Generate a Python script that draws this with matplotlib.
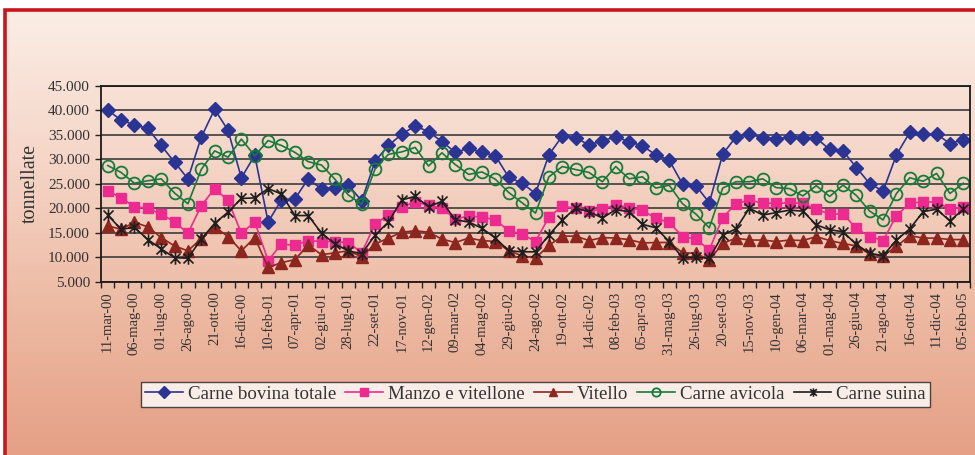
import matplotlib
matplotlib.use("Agg")
import matplotlib.pyplot as plt
import numpy as np
from matplotlib.path import Path
from matplotlib.patches import Rectangle
from matplotlib.ticker import FuncFormatter, FixedLocator
from matplotlib.colors import LinearSegmentedColormap

# ---------------- data (thousand tonnes) ----------------
tick_labels = ["11-mar-00", "06-mag-00", "01-lug-00", "26-ago-00", "21-ott-00", "16-dic-00",
               "10-feb-01", "07-apr-01", "02-giu-01", "28-lug-01", "22-set-01", "17-nov-01",
               "12-gen-02", "09-mar-02", "04-mag-02", "29-giu-02", "24-ago-02", "19-ott-02",
               "14-dic-02", "08-feb-03", "05-apr-03", "31-mag-03", "26-lug-03", "20-set-03",
               "15-nov-03", "10-gen-04", "06-mar-04", "01-mag-04", "26-giu-04", "21-ago-04",
               "16-ott-04", "11-dic-04", "05-feb-05"]

bovina_totale = [40.0, 38.0, 37.0, 36.3, 32.8, 29.4, 26.0, 34.5, 40.2, 35.9, 26.2, 30.8, 17.2,
                 21.7, 21.9, 26.0, 23.9, 24.2, 24.7, 21.5, 29.6, 32.8, 35.1, 36.8, 35.6, 33.6,
                 31.4, 32.2, 31.4, 30.7, 26.3, 25.1, 23.0, 30.9, 34.7, 34.4, 32.9, 33.8, 34.5,
                 33.6, 32.7, 30.9, 29.8, 24.9, 24.6, 21.1, 31.0, 34.6, 35.1, 34.4, 34.2, 34.5,
                 34.4, 34.3, 32.0, 31.7, 28.3, 25.0, 23.5, 30.9, 35.5, 35.1, 35.1, 33.2, 34.0]
manzo_vitellone = [23.6, 22.1, 20.3, 20.0, 18.8, 17.2, 14.9, 20.5, 24.0, 21.6, 14.9, 17.2, 9.3,
                   12.7, 12.4, 13.4, 13.2, 13.2, 13.0, 10.9, 16.8, 18.6, 20.2, 21.3, 20.6, 20.0,
                   17.8, 18.4, 18.2, 17.6, 15.4, 14.7, 13.2, 18.2, 20.4, 20.0, 19.4, 19.8, 20.7,
                   20.1, 19.6, 17.9, 17.1, 14.2, 13.7, 11.5, 18.1, 20.9, 21.7, 21.0, 21.0, 21.1,
                   21.0, 19.8, 18.8, 18.8, 15.9, 14.2, 13.4, 18.5, 21.0, 21.3, 21.3, 19.8, 20.3]
vitello = [16.4, 15.7, 17.1, 16.2, 14.0, 12.3, 11.3, 13.8, 16.2, 14.2, 11.3, 14.0, 7.9,
           8.9, 9.5, 12.5, 10.5, 10.9, 11.3, 10.1, 12.7, 13.9, 15.1, 15.4, 15.1, 13.7,
           13.0, 13.9, 13.4, 13.2, 11.3, 10.3, 9.8, 12.4, 14.3, 14.3, 13.4, 14.0, 13.9,
           13.6, 12.9, 13.0, 13.0, 10.9, 10.8, 9.4, 12.8, 13.9, 13.5, 13.5, 13.2, 13.5,
           13.4, 14.2, 13.4, 12.8, 12.3, 10.6, 10.3, 12.2, 14.4, 13.9, 13.9, 13.6, 13.6]
avicola = [28.7, 27.3, 25.1, 25.6, 26.0, 23.1, 20.9, 27.9, 31.7, 30.4, 34.1, 30.7, 33.8,
           32.8, 31.4, 29.5, 28.8, 25.9, 22.7, 20.8, 28.0, 31.0, 31.5, 32.4, 28.6, 31.3,
           28.9, 26.9, 27.4, 25.9, 23.2, 21.1, 19.0, 26.4, 28.5, 27.9, 27.3, 25.4, 28.5,
           26.0, 26.4, 24.1, 24.7, 20.9, 18.8, 16.0, 24.1, 25.4, 25.4, 26.0, 24.2, 24.0,
           22.5, 24.6, 22.4, 24.7, 22.6, 19.4, 17.6, 23.0, 26.2, 25.5, 27.1, 23.0, 25.1]
suina = [18.6, 15.7, 16.1, 13.6, 11.7, 9.9, 9.8, 13.7, 16.9, 19.2, 22.0, 22.1, 24.0,
         22.9, 18.5, 18.5, 14.9, 12.7, 11.3, 10.7, 14.5, 17.2, 21.7, 22.4, 20.3, 21.4,
         17.6, 17.2, 15.9, 13.9, 11.3, 11.1, 11.1, 14.5, 17.6, 20.0, 19.3, 18.0, 19.7,
         19.3, 16.7, 16.0, 13.2, 9.9, 10.0, 9.8, 14.5, 15.8, 20.0, 18.6, 19.1, 19.6,
         19.4, 16.6, 15.6, 15.2, 12.6, 10.8, 10.3, 13.5, 15.8, 19.3, 19.8, 17.4, 19.8]

series_names = ["Carne bovina totale", "Manzo e vitellone", "Vitello", "Carne avicola", "Carne suina"]
series_values = [bovina_totale, manzo_vitellone, vitello, avicola, suina]

# ---------------- styling ----------------
plt.rcParams['font.family'] = ['Liberation Serif', 'DejaVu Serif']
TXT = '#333333'

W, H = 975, 455
fig = plt.figure(figsize=(W / 100, H / 100), dpi=100)
fig.patch.set_facecolor('white')

# background gradient inside red frame
bg = fig.add_axes([0, 0, 1, 1], zorder=-5)
bg.set_xlim(0, 1)
bg.set_ylim(0, 1)
bg.axis('off')
cmap = LinearSegmentedColormap.from_list('g', ['#E5A086', '#EDBAA3', '#F5D6C8', '#FBEDE5'])
grad = np.linspace(0, 1, 256).reshape(-1, 1)
fx0, fy1 = 5 / W, 1 - 10 / H
bg.imshow(grad, cmap=cmap, aspect='auto', origin='lower',
          extent=[fx0, 1.0, 0.0, fy1], interpolation='bicubic')
bg.add_patch(Rectangle((fx0, -0.05), 1.2, fy1 + 0.05, fill=False,
                       edgecolor='#C8161E', linewidth=2.6, transform=bg.transAxes,
                       clip_on=False))

# plot area
left, right = 101 / W, 970 / W
top, bottom = 1 - 85.7 / H, 1 - 281.7 / H
ax = fig.add_axes([left, bottom, right - left, top - bottom])
ax.set_facecolor('none')

star = Path([(-1, -1), (1, 1), (-1, 1), (1, -1), (0, -1.25), (0, 1.25)],
            [Path.MOVETO, Path.LINETO, Path.MOVETO, Path.LINETO, Path.MOVETO, Path.LINETO])

styles = [
    dict(color='#2B3492', marker='D', markersize=6.8, mfc='#2B3492', mec='#2B3492'),
    dict(color='#EC2A90', marker='s', markersize=7.8, mfc='#EC2A90', mec='#EC2A90'),
    dict(color='#8E2620', marker='^', markersize=8, mfc='#8E2620', mec='#8E2620'),
    dict(color='#167A3A', marker='o', markersize=8.5, mfc='none', mec='#167A3A', mew=1.3),
    dict(color='#1E1E1E', marker=star, markersize=9, mfc='none', mec='#1E1E1E', mew=1.2),
]

x = np.arange(len(bovina_totale))
handles = []
for name, vals, st in zip(series_names, series_values, styles):
    h, = ax.plot(x, np.array(vals) * 1000, linewidth=1.2, label=name, **st)
    handles.append(h)

ax.set_xlim(-0.5, len(x) - 0.5)
ax.set_ylim(5000, 45000)
ax.set_yticks(np.arange(5000, 45001, 5000))
ax.yaxis.set_major_formatter(FuncFormatter(lambda v, p: f"{v:,.0f}".replace(",", ".")))
ax.grid(axis='y', color='#3c3c3c', linewidth=1.2)
ax.set_axisbelow(True)

# x ticks: marks between categories, labels on every second category
ax.xaxis.set_major_locator(FixedLocator(np.arange(-0.5, len(x), 1.0)))
ax.xaxis.set_major_formatter(FuncFormatter(lambda v, p: ""))
ax.xaxis.set_minor_locator(FixedLocator(np.arange(0, len(x), 2)))
ax.set_xticklabels(tick_labels, minor=True)
ax.tick_params(axis='x', which='major', direction='out', length=4, width=1, color='#222222')
ax.tick_params(axis='x', which='minor', length=0, pad=7, labelsize=10.5,
               labelrotation=90, labelcolor=TXT)
ax.tick_params(axis='y', direction='out', length=4, width=1, color='#222222',
               labelsize=11, labelcolor=TXT, pad=4)

for s in ax.spines.values():
    s.set_color('#1a1a1a')
    s.set_linewidth(1.3)

ax.set_ylabel('tonnellate', fontsize=14.5, color=TXT, labelpad=6)

leg = fig.legend(handles=handles, loc='upper center', ncol=5,
                 bbox_to_anchor=(535.5 / W, 1 - 382 / H), bbox_transform=fig.transFigure,
                 frameon=True, fancybox=False, fontsize=13.6, handlelength=2.0,
                 handletextpad=0.25, columnspacing=0.5, borderpad=0.2,
                 borderaxespad=0)
leg.get_frame().set_edgecolor('#222222')
leg.get_frame().set_linewidth(1.0)
leg.get_frame().set_facecolor('white')
for t in leg.get_texts():
    t.set_color(TXT)
for lh in leg.legend_handles:
    lh.set_markersize(6)

fig.savefig('out.png', dpi=100)
